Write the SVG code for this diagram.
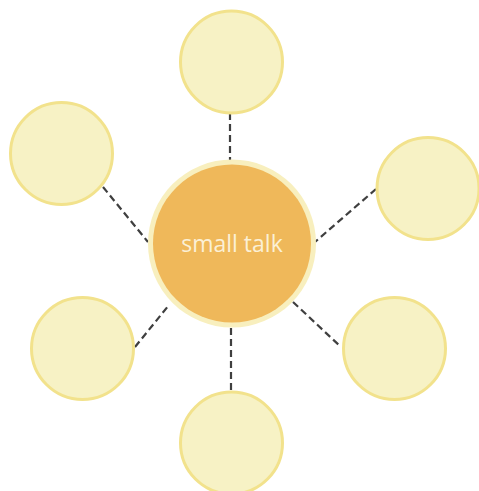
<svg xmlns="http://www.w3.org/2000/svg" width="479" height="491" viewBox="0 0 479 491">
  <style>
    .link { stroke: #3f3f3f; stroke-width: 2.2; stroke-dasharray: 7 4; fill: none; }
    .leaf { fill: #F7F2C5; stroke: #F2E28C; stroke-width: 3; }
    .hub-ring { fill: #F8EFBE; }
    .hub { fill: #EFB85A; }
    .label { font-family: "Open Sans", "Noto Sans", "DejaVu Sans", sans-serif; font-size: 23px; fill: #FBF0D6; text-anchor: middle; }
  </style>
  <rect width="479" height="491" fill="#ffffff"/>
  <g id="connectors">
    <line class="link" x1="230" y1="113" x2="230" y2="160"/>
    <line class="link" x1="103" y1="187" x2="148" y2="242"/>
    <line class="link" x1="376" y1="189" x2="315" y2="242"/>
    <line class="link" x1="135" y1="347" x2="169" y2="305"/>
    <line class="link" x1="293" y1="302" x2="341" y2="347"/>
    <line class="link" x1="231" y1="328" x2="231" y2="390"/>
  </g>
  <g id="node-top"><circle class="leaf" cx="231.5" cy="62" r="51"/></g>
  <g id="node-top-left"><circle class="leaf" cx="61.5" cy="153.5" r="51"/></g>
  <g id="node-right"><circle class="leaf" cx="428" cy="188.5" r="51"/></g>
  <g id="node-bottom-left"><circle class="leaf" cx="82.5" cy="348.5" r="51"/></g>
  <g id="node-bottom-right"><circle class="leaf" cx="394.5" cy="348.5" r="51"/></g>
  <g id="node-bottom"><circle class="leaf" cx="231.5" cy="443" r="51"/></g>
  <g id="node-center">
    <circle class="hub-ring" cx="232" cy="243.5" r="84"/>
    <circle class="hub" cx="232" cy="243.5" r="79"/>
    <text class="label" x="232" y="252">small talk</text>
  </g>
</svg>
